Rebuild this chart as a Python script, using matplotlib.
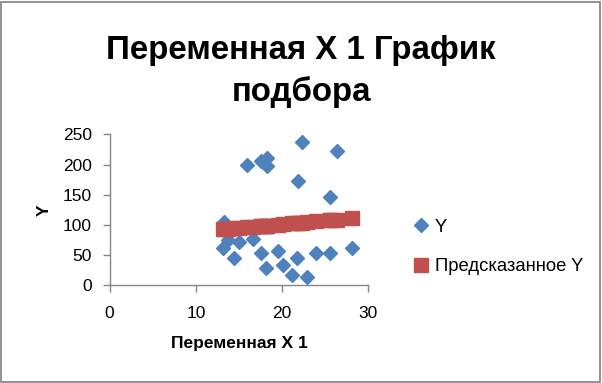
import matplotlib
matplotlib.use('Agg')
import matplotlib.pyplot as plt
from matplotlib.patches import Rectangle

# data
x1 = [22.3, 26.4, 15.9, 17.6, 18.3, 18.2, 21.8, 25.6, 13.3, 13.1, 13.7, 15.0,
      16.6, 14.4, 17.5, 19.5, 18.1, 20.1, 21.1, 21.7, 22.9, 23.9, 25.6, 28.1]
y_obs = [238, 222, 200, 205, 210, 197, 172, 147, 105, 62, 75, 71,
         77, 46, 53, 56, 29, 33, 17, 46, 13, 53, 53, 62]
y_pred = [103.9, 108.9, 96.1, 98.2, 99.0, 98.9, 103.3, 107.9, 92.9, 92.7, 93.4, 95.0,
          97.0, 94.3, 98.1, 100.5, 98.8, 101.2, 102.4, 103.2, 104.6, 105.9, 107.9, 111.0]
x_ticks = [0, 10, 20, 30]
y_ticks = [0, 50, 100, 150, 200, 250]

plt.rcParams['font.family'] = ['Liberation Sans', 'DejaVu Sans']

fig = plt.figure(figsize=(6.02, 3.83), dpi=100)
ax = fig.add_axes([0.1822, 0.2551, 0.4296, 0.3942])

ax.plot(x1, y_obs, linestyle='none', marker='D', markersize=7.2,
        color='#4F81BD', label='Y')
ax.plot(x1, y_pred, linestyle='none', marker='s', markersize=10,
        color='#C0504D', label='Предсказанное Y')

ax.set_xlim(0, 30)
ax.set_ylim(0, 250)
ax.set_xticks(x_ticks)
ax.set_yticks(y_ticks)
ax.tick_params(axis='both', direction='out', length=5, width=1,
               color='#868686', labelsize=12.5, labelcolor='black')
ax.tick_params(axis='y', pad=8)
ax.tick_params(axis='x', pad=10)
for s in ['top', 'right']:
    ax.spines[s].set_visible(False)
for s in ['left', 'bottom']:
    ax.spines[s].set_color('#868686')
    ax.spines[s].set_linewidth(1)

ax.set_xlabel('Переменная X 1', fontsize=12.5, fontweight='bold', labelpad=11)
ax.set_ylabel('Y', fontsize=12.5, fontweight='bold', labelpad=8)

fig.text(0.5, 0.813, 'Переменная X 1 График\nподбора', ha='center', va='center',
         fontsize=23.8, fontweight='bold', linespacing=1.42)

leg = fig.legend(loc='center left', bbox_to_anchor=(0.675, 0.355), frameon=False,
                 fontsize=13.3, handlelength=0.8, handletextpad=0.35,
                 labelspacing=1.2, borderaxespad=0)

fig.patches.append(Rectangle((0.002, 0.003), 0.995, 0.993, transform=fig.transFigure,
                             fill=False, edgecolor='#7f7f7f', linewidth=1.2))

fig.savefig('out.png', dpi=100)
